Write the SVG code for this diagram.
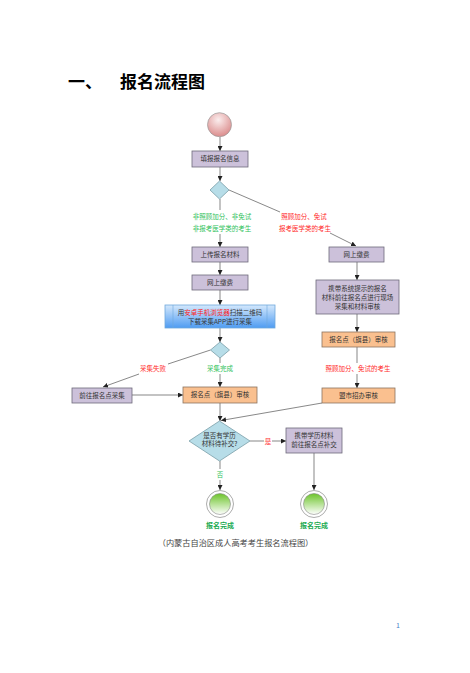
<svg xmlns="http://www.w3.org/2000/svg" width="470" height="673" viewBox="0 0 470 673">
<defs>
<style>
text{font-family:"Noto Sans CJK SC","Liberation Sans",sans-serif;}
.t{font-size:6.5px;fill:#333;text-anchor:middle;}
.g{font-size:6.5px;fill:#2fc25b;text-anchor:middle;}
.r{font-size:6.5px;fill:#ff2a2a;text-anchor:middle;}
.purple{fill:#ccc1da;stroke:#6e6a7a;stroke-width:0.8;}
.orange{fill:#fac08f;stroke:#8c7460;stroke-width:0.8;}
.dia{fill:#b7dde8;stroke:#7a9ea8;stroke-width:0.8;}
.ln{fill:none;stroke:#555;stroke-width:0.7;}
.done{font-size:7px;font-weight:bold;fill:#1aaa50;text-anchor:middle;}
</style>
<marker id="arr" viewBox="0 0 6 6" refX="6" refY="3" markerWidth="5" markerHeight="5" orient="auto" markerUnits="userSpaceOnUse">
<path d="M0,0 L6,3 L0,6 z" fill="#222"/>
</marker>
<radialGradient id="pink" cx="0.45" cy="0.3" r="0.75">
<stop offset="0" stop-color="#fbeeee"/>
<stop offset="1" stop-color="#d98585"/>
</radialGradient>
<linearGradient id="green" x1="0" y1="0" x2="0" y2="1">
<stop offset="0" stop-color="#6cc42a"/>
<stop offset="1" stop-color="#ffffff"/>
</linearGradient>
<linearGradient id="blue" x1="0" y1="0" x2="0" y2="1">
<stop offset="0" stop-color="#d4e8fc"/>
<stop offset="1" stop-color="#4f9cf2"/>
</linearGradient>
</defs>
<rect width="470" height="673" fill="#fff"/>

<text x="68" y="88" font-size="17" font-weight="bold" fill="#000">一、</text>
<text x="120" y="88" font-size="17" font-weight="bold" fill="#000">报名流程图</text>

<g id="connectors">
<line class="ln" x1="220" y1="137" x2="220" y2="151" marker-end="url(#arr)"/>
<line class="ln" x1="220" y1="167" x2="220" y2="181" marker-end="url(#arr)"/>
<line class="ln" x1="220" y1="199" x2="220" y2="210"/>
<line class="ln" x1="220" y1="234" x2="220" y2="247" marker-end="url(#arr)"/>
<line class="ln" x1="229" y1="190" x2="280" y2="212"/>
<line class="ln" x1="330" y1="233" x2="356" y2="246" marker-end="url(#arr)"/>
<line class="ln" x1="220" y1="262" x2="220" y2="275" marker-end="url(#arr)"/>
<line class="ln" x1="220" y1="290" x2="220" y2="305" marker-end="url(#arr)"/>
<line class="ln" x1="220" y1="328" x2="220" y2="342" marker-end="url(#arr)"/>
<line class="ln" x1="220" y1="358" x2="220" y2="363"/>
<line class="ln" x1="220" y1="374" x2="220" y2="387" marker-end="url(#arr)"/>
<line class="ln" x1="210.5" y1="350" x2="168" y2="364"/>
<line class="ln" x1="139" y1="374" x2="103" y2="387" marker-end="url(#arr)"/>
<line class="ln" x1="132" y1="395" x2="183" y2="395" marker-end="url(#arr)"/>
<line class="ln" x1="357" y1="262" x2="357" y2="280" marker-end="url(#arr)"/>
<line class="ln" x1="357" y1="314" x2="357" y2="332" marker-end="url(#arr)"/>
<line class="ln" x1="357" y1="347" x2="357" y2="363"/>
<line class="ln" x1="357" y1="374" x2="357" y2="388" marker-end="url(#arr)"/>
<line class="ln" x1="220" y1="403" x2="220" y2="421" marker-end="url(#arr)"/>
<line class="ln" x1="322" y1="403" x2="221" y2="420.5" marker-end="url(#arr)"/>
<line class="ln" x1="250" y1="441" x2="264" y2="441"/>
<line class="ln" x1="272" y1="441" x2="286" y2="441" marker-end="url(#arr)"/>
<line class="ln" x1="220" y1="461" x2="220" y2="469"/>
<line class="ln" x1="220" y1="480" x2="220" y2="490" marker-end="url(#arr)"/>
<line class="ln" x1="314" y1="453" x2="314" y2="490" marker-end="url(#arr)"/>
</g>

<g id="labels">
<text class="g" x="222" y="219">非照顾加分、非免试</text>
<text class="g" x="222" y="231">非报考医学类的考生</text>
<text class="r" x="304" y="219">照顾加分、免试</text>
<text class="r" x="305" y="231">报考医学类的考生</text>
<text class="r" x="153" y="371">采集失败</text>
<text class="g" x="220" y="371">采集完成</text>
<text class="r" x="358" y="371">照顾加分、免试的考生</text>
<text class="r" x="268" y="443.5">是</text>
<text class="g" x="220" y="477">否</text>
</g>

<g id="start">
<circle cx="219.5" cy="124.7" r="12" fill="url(#pink)" stroke="#999" stroke-width="0.7"/>
</g>

<g id="n1">
<rect class="purple" x="192" y="151" width="56" height="16"/>
<text class="t" x="220" y="161.3">填报报名信息</text>
</g>

<g id="d1">
<polygon class="dia" points="219.5,181 229,190 219.5,199 210,190"/>
</g>

<g id="n2">
<rect class="purple" x="192" y="247" width="56" height="15"/>
<text class="t" x="220" y="256.8">上传报名材料</text>
</g>

<g id="n3">
<rect class="purple" x="192" y="275" width="56" height="15"/>
<text class="t" x="220" y="284.8">网上缴费</text>
</g>

<g id="n4">
<rect x="165" y="305" width="110" height="23" fill="url(#blue)" stroke="#6fa8dc" stroke-width="0.8"/>
<line x1="173" y1="305" x2="173" y2="328" stroke="#6fa8dc" stroke-width="0.6"/>
<line x1="267" y1="305" x2="267" y2="328" stroke="#6fa8dc" stroke-width="0.6"/>
<text class="t" x="220" y="314.5">用<tspan fill="#ff1a1a">安卓手机浏览器</tspan>扫描二维码</text>
<text class="t" x="220" y="324">下载采集APP进行采集</text>
</g>

<g id="d2">
<polygon class="dia" points="220,342 229.5,350 220,358 210.5,350"/>
</g>

<g id="n5">
<rect class="purple" x="72" y="388" width="60" height="15"/>
<text class="t" x="102" y="397.8">前往报名点采集</text>
</g>

<g id="n6">
<rect class="orange" x="183" y="387" width="74" height="16"/>
<text class="t" x="220" y="397.3">报名点（旗县）审核</text>
</g>

<g id="n7">
<rect class="purple" x="329" y="247" width="55" height="15"/>
<text class="t" x="356.5" y="256.8">网上缴费</text>
</g>

<g id="n8">
<rect class="purple" x="316" y="280" width="83" height="34"/>
<text class="t" x="357.5" y="290.5">携带系统提示的报名</text>
<text class="t" x="357.5" y="299.5">材料前往报名点进行现场</text>
<text class="t" x="357.5" y="308.5">采集和材料审核</text>
</g>

<g id="n9">
<rect class="orange" x="322" y="332" width="73" height="15"/>
<text class="t" x="358.5" y="341.8">报名点（旗县）审核</text>
</g>

<g id="n10">
<rect class="orange" x="322" y="388" width="73" height="15"/>
<text class="t" x="358.5" y="397.8">盟市招办审核</text>
</g>

<g id="d3">
<polygon class="dia" points="219.5,421 250,441 219.5,461 189,441"/>
<text class="t" x="219.5" y="437.5">是否有学历</text>
<text class="t" x="219.5" y="446">材料待补交?</text>
</g>

<g id="n11">
<rect class="purple" x="286" y="428" width="56" height="25"/>
<text class="t" x="314" y="438">携带学历材料</text>
<text class="t" x="314" y="447">前往报名点补交</text>
</g>

<g id="end1">
<circle cx="220" cy="504" r="13.5" fill="#fff" stroke="#888" stroke-width="0.7"/>
<circle cx="220" cy="504" r="10.5" fill="url(#green)" stroke="#888" stroke-width="0.6"/>
<text class="done" x="220" y="527.5">报名完成</text>
</g>

<g id="end2">
<circle cx="314" cy="504" r="13.5" fill="#fff" stroke="#888" stroke-width="0.7"/>
<circle cx="314" cy="504" r="10.5" fill="url(#green)" stroke="#888" stroke-width="0.6"/>
<text class="done" x="314" y="527.5">报名完成</text>
</g>

<text x="235.5" y="546" font-size="8.2" fill="#444" text-anchor="middle" font-family="'Liberation Serif','Noto Sans CJK SC',serif">（内蒙古自治区成人高考考生报名流程图）</text>
<text x="398" y="628" font-size="7" fill="#4a7fc8" text-anchor="middle" font-family="'Liberation Serif',serif">1</text>
</svg>
